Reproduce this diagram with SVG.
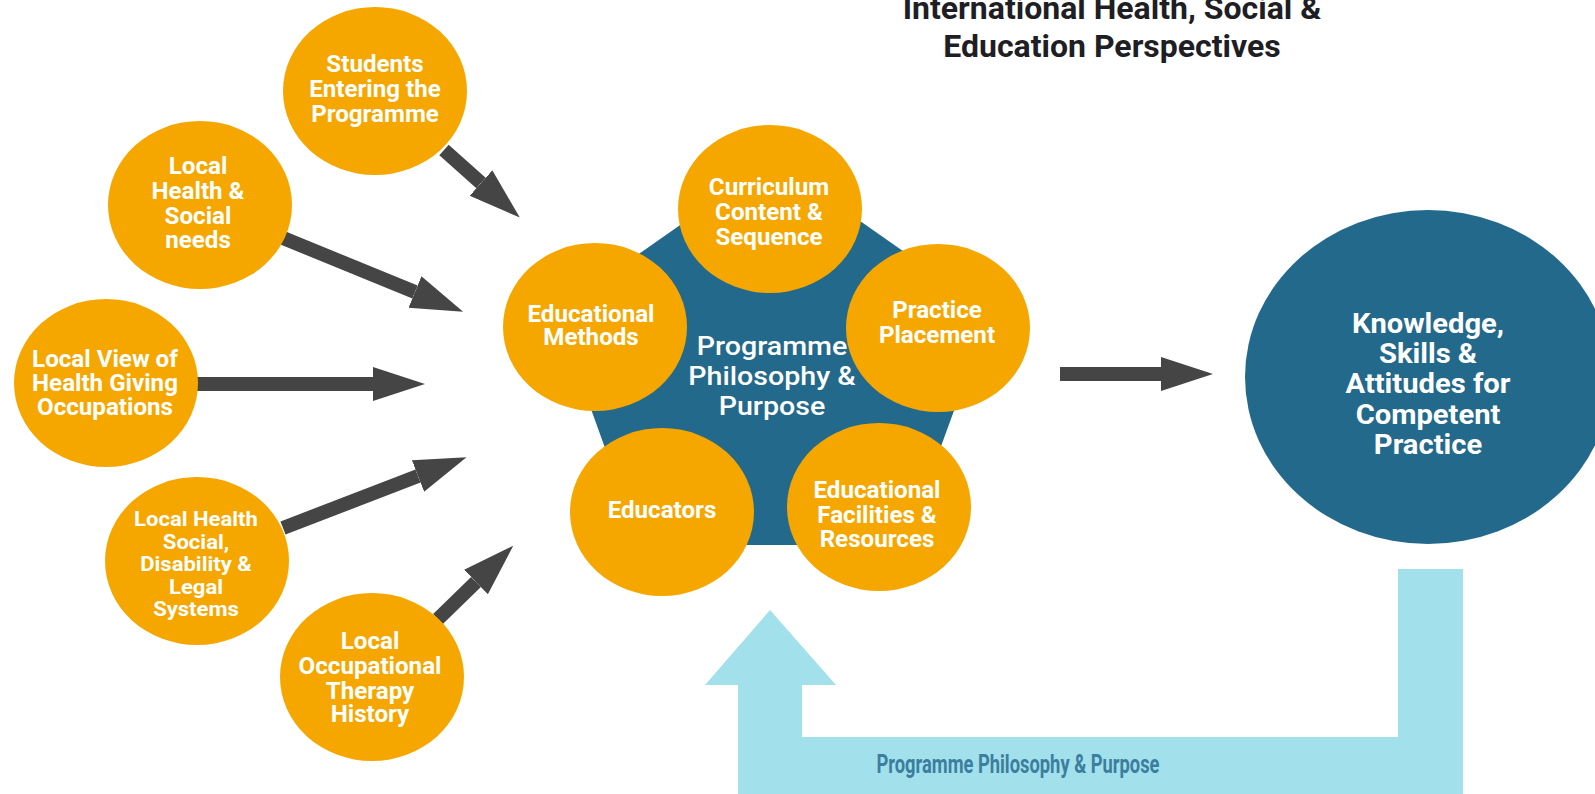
<svg xmlns="http://www.w3.org/2000/svg" width="1595" height="794" viewBox="0 0 1595 794">
  <defs>
    <style>
      .orange { fill: #F5A700; }
      .blue { fill: #23698C; }
      .lbl { font-family: Roboto, "Liberation Sans", Arial, sans-serif; font-weight: 700; fill: #FFFFFF; text-anchor: middle; }
      .sm { font-size: 23px; }
      .xs { font-size: 21px; }
      .big { font-size: 27px; }
      .mid { font-size: 26px; font-weight: 500; }
      .title { font-family: Roboto, "Liberation Sans", Arial, sans-serif; font-weight: 700; font-size: 32px; fill: #1E1E24; text-anchor: middle; }
      .conn { stroke: #454545; stroke-width: 14; fill: none; }
      .feedback { fill: #A2E0EB; }
      .fbtext { font-family: Roboto, "Liberation Sans", Arial, sans-serif; font-weight: 700; font-size: 25px; fill: #3B7E9E; text-anchor: middle; }
    </style>
    <marker id="head" markerUnits="userSpaceOnUse" markerWidth="60" markerHeight="40" refX="0" refY="17" orient="auto">
      <path d="M0,0 L52,17 L0,34 Z" fill="#454545"/>
    </marker>
  </defs>

  <rect width="1595" height="794" fill="#FFFFFF"/>

  <g id="title">
    <text class="title" x="1112" y="19">International Health, Social &amp;</text>
    <text class="title" x="1112" y="57">Education Perspectives</text>
  </g>

  <g id="connectors">
    <line class="conn" x1="444" y1="150" x2="481" y2="183" marker-end="url(#head)"/>
    <line class="conn" x1="283" y1="238" x2="415" y2="292" marker-end="url(#head)"/>
    <line class="conn" x1="196" y1="384" x2="373" y2="384" marker-end="url(#head)"/>
    <line class="conn" x1="283" y1="528" x2="418" y2="476" marker-end="url(#head)"/>
    <line class="conn" x1="438" y1="619" x2="476" y2="582" marker-end="url(#head)"/>
    <line class="conn" x1="1060" y1="374" x2="1161" y2="374" marker-end="url(#head)"/>
  </g>

  <g id="feedback-arrow">
    <path class="feedback" d="M1398,569 L1463,569 L1463,794 L738,794 L738,685 L705,685 L770,610 L836,685 L802,685 L802,737 L1398,737 Z"/>
    <text class="fbtext" x="1018" y="773" textLength="283" lengthAdjust="spacingAndGlyphs">Programme Philosophy &amp; Purpose</text>
  </g>

  <g id="node-students">
    <ellipse class="orange" cx="375" cy="91" rx="92" ry="84"/>
    <g class="lbl sm" transform="translate(375 0) scale(1.05 1)">
      <text x="0" y="72">Students</text>
      <text x="0" y="97">Entering the</text>
      <text x="0" y="122">Programme</text>
    </g>
  </g>

  <g id="node-local-health-social-needs">
    <ellipse class="orange" cx="200" cy="205" rx="92" ry="84"/>
    <g class="lbl sm" transform="translate(198 0) scale(1.05 1)">
      <text x="0" y="174">Local</text>
      <text x="0" y="199">Health &amp;</text>
      <text x="0" y="224">Social</text>
      <text x="0" y="248">needs</text>
    </g>
  </g>

  <g id="node-local-view">
    <ellipse class="orange" cx="106" cy="383" rx="92" ry="84"/>
    <g class="lbl sm" transform="translate(105 0) scale(1.05 1)">
      <text x="0" y="367">Local View of</text>
      <text x="0" y="391">Health Giving</text>
      <text x="0" y="415">Occupations</text>
    </g>
  </g>

  <g id="node-local-systems">
    <ellipse class="orange" cx="197" cy="561" rx="92" ry="84"/>
    <g class="lbl xs" transform="translate(196 0) scale(1.05 1)">
      <text x="0" y="526">Local Health</text>
      <text x="0" y="549">Social,</text>
      <text x="0" y="571">Disability &amp;</text>
      <text x="0" y="594">Legal</text>
      <text x="0" y="616">Systems</text>
    </g>
  </g>

  <g id="node-ot-history">
    <ellipse class="orange" cx="372" cy="677" rx="92" ry="84"/>
    <g class="lbl sm" transform="translate(370 0) scale(1.05 1)">
      <text x="0" y="649">Local</text>
      <text x="0" y="674">Occupational</text>
      <text x="0" y="699">Therapy</text>
      <text x="0" y="722">History</text>
    </g>
  </g>

  <g id="node-core">
    <path class="blue" d="M773,160 L990,312 L905,545 L640,545 L556,312 Z"/>
    <g class="lbl mid" transform="translate(772 0) scale(1.1 1)">
      <text x="0" y="355">Programme</text>
      <text x="0" y="385">Philosophy &amp;</text>
      <text x="0" y="415">Purpose</text>
    </g>
  </g>

  <g id="node-curriculum">
    <ellipse class="orange" cx="770" cy="209" rx="92" ry="84"/>
    <g class="lbl sm" transform="translate(769 0) scale(1.05 1)">
      <text x="0" y="195">Curriculum</text>
      <text x="0" y="220">Content &amp;</text>
      <text x="0" y="245">Sequence</text>
    </g>
  </g>

  <g id="node-methods">
    <ellipse class="orange" cx="595" cy="327" rx="92" ry="84"/>
    <g class="lbl sm" transform="translate(591 0) scale(1.05 1)">
      <text x="0" y="322">Educational</text>
      <text x="0" y="345">Methods</text>
    </g>
  </g>

  <g id="node-practice">
    <ellipse class="orange" cx="938" cy="328" rx="92" ry="84"/>
    <g class="lbl sm" transform="translate(937 0) scale(1.05 1)">
      <text x="0" y="318">Practice</text>
      <text x="0" y="343">Placement</text>
    </g>
  </g>

  <g id="node-educators">
    <ellipse class="orange" cx="662" cy="512" rx="92" ry="84"/>
    <g class="lbl sm" transform="translate(662 0) scale(1.05 1)">
      <text x="0" y="518">Educators</text>
    </g>
  </g>

  <g id="node-facilities">
    <ellipse class="orange" cx="879" cy="507" rx="92" ry="84"/>
    <g class="lbl sm" transform="translate(877 0) scale(1.05 1)">
      <text x="0" y="498">Educational</text>
      <text x="0" y="523">Facilities &amp;</text>
      <text x="0" y="547">Resources</text>
    </g>
  </g>

  <g id="node-outcome">
    <ellipse class="blue" cx="1428" cy="377" rx="183" ry="167"/>
    <g class="lbl big" transform="translate(1428 0) scale(1.08 1)">
      <text x="0" y="333">Knowledge,</text>
      <text x="0" y="363">Skills &amp;</text>
      <text x="0" y="393">Attitudes for</text>
      <text x="0" y="424">Competent</text>
      <text x="0" y="454">Practice</text>
    </g>
  </g>
</svg>
